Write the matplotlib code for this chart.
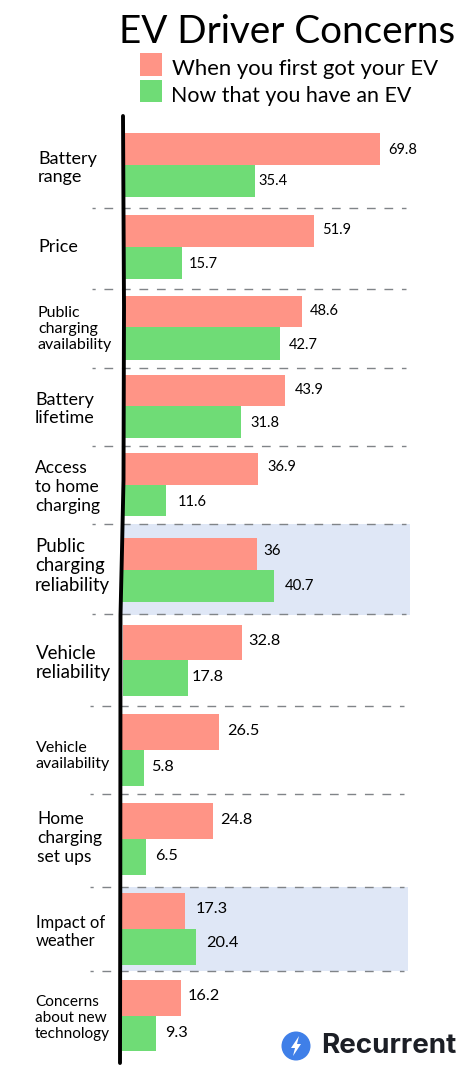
import matplotlib
matplotlib.use('Agg')
import matplotlib.pyplot as plt
from matplotlib.patches import Circle, Polygon, Rectangle

# survey results, percent of drivers
categories = ['Battery\nrange', 'Price', 'Public\ncharging\navailability', 'Battery\nlifetime',
              'Access\nto home\ncharging', 'Public\ncharging\nreliability', 'Vehicle\nreliability',
              'Vehicle\navailability', 'Home\ncharging\nset ups', 'Impact of\nweather',
              'Concerns\nabout new\ntechnology']
first_got = [69.8, 51.9, 48.6, 43.9, 36.9, 36, 32.8, 26.5, 24.8, 17.3, 16.2]
now_have = [35.4, 15.7, 42.7, 31.8, 11.6, 40.7, 17.8, 5.8, 6.5, 20.4, 9.3]
first_labels = ['69.8', '51.9', '48.6', '43.9', '36.9', '36', '32.8', '26.5', '24.8', '17.3', '16.2']
now_labels = ['35.4', '15.7', '42.7', '31.8', '11.6', '40.7', '17.8', '5.8', '6.5', '20.4', '9.3']
series_names = ['When you first got your EV', 'Now that you have an EV']

# layout of the rows in figure pixels
row_top = [133, 215, 296, 375, 453, 538, 625, 714, 803, 893, 980]
row_mid = [165, 247, 327, 406, 485, 570, 660, 750, 839, 929, 1016]
row_bot = [197, 279, 360, 438, 516, 602, 696, 786, 875, 965, 1051]
row_left = [125, 125, 125, 125, 124, 122, 123, 122.5, 122.5, 122, 122]
# pixels per percentage point, each row was laid out a little differently
row_scale = [3.66, 3.64, 3.64, 3.64, 3.64, 3.74, 3.64, 3.64, 3.64, 3.62, 3.62]
row_label_y = [168, 247, 329, 409, 487, 566, 663, 756, 838, 932, 1018]
row_label_x = [38, 38, 38, 35, 35, 35, 36, 36, 37, 36, 35]
row_label_size = [13, 13, 11.5, 13, 12.5, 13.4, 13.4, 11.5, 12.5, 11.9, 11.1]
first_text_x = [388, 322, 310, 295, 267, 263, 248, 227, 220, 196, 188]
first_text_y = [150, 230, 311, 390, 467, 551, 641, 731, 820, 909, 996]
now_text_x = [258, 189, 289, 250, 178, 285, 192, 151, 155, 206, 165]
now_text_y = [181, 264, 345, 423, 502, 586, 677, 767, 856, 943, 1033]
value_size = [10.5, 10.5, 10.5, 10.5, 10.5, 10.8, 11.7, 11.7, 11.7, 11.7, 11.7]
seps = [208, 289, 368, 446, 524, 614, 706, 794, 887, 971]
sep_left = [92, 92, 92, 92, 92, 92, 90, 90, 90, 90]
sep_right = [406, 406, 406, 406, 406, 406, 404, 404, 404, 404]

RED = '#ff9486'
GREEN = '#6fdc76'
BLUE = '#dfe7f6'

plt.rcParams['font.family'] = 'Lato'

W, H = 474, 1075
fig = plt.figure(figsize=(W / 100, H / 100), dpi=100)
ax = fig.add_axes([0, 0, 1, 1])
ax.set_xlim(0, W)
ax.set_ylim(H, 0)
ax.axis('off')

# highlighted rows
ax.add_patch(Rectangle((121, 524), 289, 91, color=BLUE, lw=0, zorder=1))
ax.add_patch(Rectangle((121, 887), 287, 84, color=BLUE, lw=0, zorder=1))

for y, x0, x1 in zip(seps, sep_left, sep_right):
    ax.plot([x0, x1], [y, y], color='#808488', lw=1, linestyle=(4, (6.3, 6.3)), zorder=2)

for i, name in enumerate(categories):
    left = row_left[i]
    ax.barh((row_top[i] + row_mid[i]) / 2, first_got[i] * row_scale[i], row_mid[i] - row_top[i],
            left=left, color=RED, zorder=3)
    ax.barh((row_mid[i] + row_bot[i]) / 2, now_have[i] * row_scale[i], row_bot[i] - row_mid[i],
            left=left, color=GREEN, zorder=3)
    ax.text(first_text_x[i], first_text_y[i], first_labels[i], fontsize=value_size[i], va='center', zorder=5)
    ax.text(now_text_x[i], now_text_y[i], now_labels[i], fontsize=value_size[i], va='center', zorder=5)
    ax.text(row_label_x[i], row_label_y[i], name, fontsize=row_label_size[i], va='center', ha='left', linespacing=1.2)

# hand drawn looking vertical axis
ax.plot([123, 124, 123.5, 122, 120.5, 120.3, 120], [116, 306, 480, 550, 615, 887, 1063],
        color='black', lw=2.8, solid_capstyle='round', zorder=4)

# title and legend
ax.text(287.5, 32, 'EV Driver Concerns', fontsize=27.8, ha='center', va='center')
ax.add_patch(Rectangle((140, 53), 22, 23, color=RED, lw=0))
ax.add_patch(Rectangle((140, 80), 22, 22, color=GREEN, lw=0))
ax.text(172, 69, series_names[0], fontsize=15.9, va='center')
ax.text(171, 96, series_names[1], fontsize=15.4, va='center')

# logo
ax.add_patch(Circle((296, 1046), 14.5, color='#3f7fe8', lw=0, zorder=5))
ax.add_patch(Polygon([(299, 1036), (291, 1048), (295, 1048), (293, 1056), (301, 1044), (297, 1044)],
                     color='white', lw=0, zorder=6))
ax.text(321, 1046, 'Recurrent', fontsize=20, fontweight='bold', family='Inter', va='center', color='#1c1f26')

fig.savefig('out.png', dpi=100)
